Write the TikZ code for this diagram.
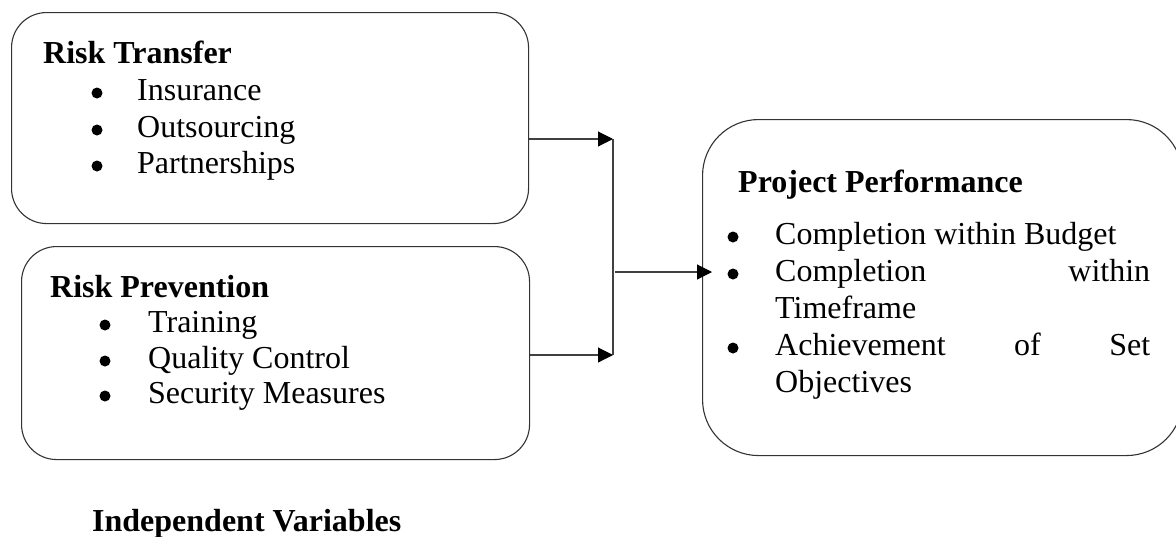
\documentclass[tikz,border=0pt]{standalone}
\usepackage{fontspec}
\setmainfont{Liberation Serif}
\usetikzlibrary{arrows.meta}
\begin{document}
\begin{tikzpicture}[x=1pt,y=-1pt,
  box/.style={draw=black!80, line width=1.1pt, anchor=north west, inner sep=0pt},
  txt/.style={font=\fontsize{32}{37}\selectfont, inner sep=0pt, anchor=base west},
  hd/.style={txt, font=\fontsize{32}{37}\selectfont\bfseries},
  bul/.style={fill=black, circle, inner sep=0pt, minimum size=11pt},
  conn/.style={draw=black!75, line width=1.1pt},
  arr/.style={conn, -{Triangle[length=15pt,width=15pt,color=black]}}]
\useasboundingbox (0,0) rectangle (1176,536);
% boxes
\node[box, rounded corners=35pt, minimum width=517pt, minimum height=211pt] (b1) at (11,12) {};
\node[box, rounded corners=35pt, minimum width=508pt, minimum height=213pt] (b2) at (21,246) {};
\node[box, rounded corners=56pt, minimum width=480pt, minimum height=336pt] (b3) at (702,119) {};
% box 1 text
\node[hd] (t1) at (43,63) {Risk Transfer};
\node[bul] (u11) at (97,93) {};
\node[bul] (u12) at (97,130) {};
\node[bul] (u13) at (97,166) {};
\node[txt] (i11) at (137,100) {Insurance};
\node[txt] (i12) at (137,137) {Outsourcing};
\node[txt] (i13) at (137,173) {Partnerships};
% box 2 text
\node[hd] (t2) at (50,297) {Risk Prevention};
\node[bul] (u21) at (105,325) {};
\node[bul] (u22) at (105,361) {};
\node[bul] (u23) at (105,396) {};
\node[txt] (i21) at (148,332) {Training};
\node[txt] (i22) at (148,368) {Quality Control};
\node[txt] (i23) at (148,403) {Security Measures};
% box 3 text
\node[hd] (t3) at (738,192) {Project Performance};
\node[bul] (u31) at (733,237) {};
\node[bul] (u32) at (733,274) {};
\node[bul] (u33) at (733,348) {};
\node[txt, text width=375pt, align=justify] (i3) at (775,244)
  {\tolerance=10000\hbadness=10000\hyphenpenalty=10000\exhyphenpenalty=10000
   Completion within Budget\par
   Completion within Timeframe\par
   Achievement of Set Objectives\par};
% label
\node[hd] (lab) at (92,531) {Independent Variables};
% connectors
\coordinate (j1) at (613,139);
\coordinate (j2) at (613,355);
\coordinate (jm) at (613,272);
\coordinate (tip) at (712,272);
\draw[arr] (b1.east |- j1) -- (j1);
\draw[arr] (b2.east |- j2) -- (j2);
\draw[conn] (j1) -- (j2);
\draw[arr] ([xshift=2pt]jm) -- (tip);
\end{tikzpicture}
\end{document}
